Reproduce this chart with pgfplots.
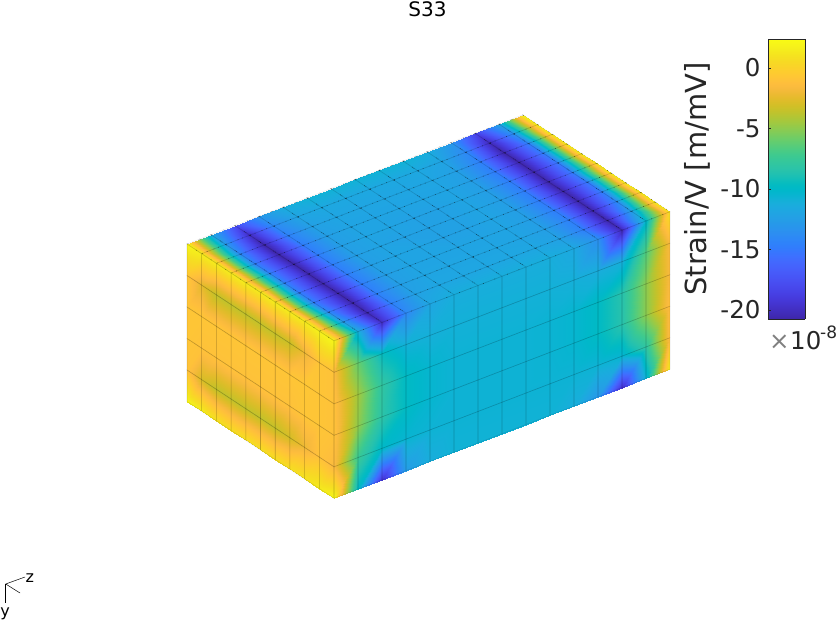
\documentclass[border=0pt]{standalone}
\usepackage{fontspec}
\setmainfont{DejaVu Sans}
\usepackage{pgfplots}
\usepackage{pgfplotstable}
\pgfplotsset{compat=1.18}
\definecolor{mtext}{rgb}{0.15,0.15,0.15}
\pgfplotsset{colormap={parula}{
rgb=(0.2422,0.1504,0.6603) rgb=(0.2504,0.1650,0.7076) rgb=(0.2578,0.1818,0.7511) rgb=(0.2647,0.1978,0.7952)
rgb=(0.2706,0.2147,0.8364) rgb=(0.2751,0.2342,0.8710) rgb=(0.2783,0.2559,0.8991) rgb=(0.2803,0.2782,0.9221)
rgb=(0.2813,0.3006,0.9414) rgb=(0.2810,0.3228,0.9579) rgb=(0.2795,0.3447,0.9717) rgb=(0.2760,0.3667,0.9829)
rgb=(0.2699,0.3892,0.9906) rgb=(0.2602,0.4123,0.9952) rgb=(0.2440,0.4358,0.9988) rgb=(0.2206,0.4603,0.9973)
rgb=(0.1963,0.4847,0.9892) rgb=(0.1834,0.5074,0.9798) rgb=(0.1786,0.5289,0.9682) rgb=(0.1764,0.5499,0.9520)
rgb=(0.1687,0.5703,0.9359) rgb=(0.1540,0.5902,0.9218) rgb=(0.1460,0.6091,0.9079) rgb=(0.1380,0.6276,0.8973)
rgb=(0.1248,0.6459,0.8883) rgb=(0.1113,0.6635,0.8763) rgb=(0.0952,0.6798,0.8598) rgb=(0.0689,0.6948,0.8394)
rgb=(0.0297,0.7082,0.8163) rgb=(0.0036,0.7203,0.7917) rgb=(0.0067,0.7312,0.7660) rgb=(0.0433,0.7411,0.7394)
rgb=(0.0964,0.7500,0.7120) rgb=(0.1408,0.7584,0.6842) rgb=(0.1717,0.7670,0.6554) rgb=(0.1938,0.7758,0.6251)
rgb=(0.2161,0.7843,0.5923) rgb=(0.2470,0.7918,0.5567) rgb=(0.2906,0.7973,0.5188) rgb=(0.3406,0.8008,0.4789)
rgb=(0.3909,0.8029,0.4354) rgb=(0.4456,0.8024,0.3909) rgb=(0.5044,0.7993,0.3480) rgb=(0.5616,0.7942,0.3045)
rgb=(0.6174,0.7876,0.2612) rgb=(0.6720,0.7793,0.2227) rgb=(0.7242,0.7698,0.1910) rgb=(0.7738,0.7598,0.1646)
rgb=(0.8203,0.7498,0.1535) rgb=(0.8634,0.7406,0.1596) rgb=(0.9035,0.7330,0.1774) rgb=(0.9393,0.7288,0.2100)
rgb=(0.9728,0.7298,0.2394) rgb=(0.9956,0.7434,0.2371) rgb=(0.9970,0.7659,0.2199) rgb=(0.9952,0.7861,0.1967)
rgb=(0.9892,0.8090,0.1768) rgb=(0.9786,0.8323,0.1551) rgb=(0.9676,0.8555,0.1398) rgb=(0.9610,0.8807,0.1260)
rgb=(0.9597,0.9090,0.1157) rgb=(0.9628,0.9373,0.1100) rgb=(0.9691,0.9606,0.0950) rgb=(0.9769,0.9839,0.0805)
}}
% top face z=5: rows y=0..10, columns x=0..14
\pgfplotstableread{
x y z c
0 0 5 2
1 0 5 -11
2 0 5 -19.8
3 0 5 -14
4 0 5 -11.8
5 0 5 -11.2
6 0 5 -11.2
7 0 5 -11.2
8 0 5 -11.2
9 0 5 -11.2
10 0 5 -11.6
11 0 5 -13.5
12 0 5 -20.3
13 0 5 -10
14 0 5 1
0 1 5 1.8
1 1 5 -12.5
2 1 5 -20.5
3 1 5 -14.5
4 1 5 -12.2
5 1 5 -11.8
6 1 5 -11.8
7 1 5 -11.8
8 1 5 -11.8
9 1 5 -11.8
10 1 5 -12.2
11 1 5 -14.5
12 1 5 -20.7
13 1 5 -12.5
14 1 5 1.5
0 2 5 1.5
1 2 5 -14
2 2 5 -20.7
3 2 5 -14.5
4 2 5 -12.4
5 2 5 -11.9
6 2 5 -11.9
7 2 5 -11.9
8 2 5 -11.9
9 2 5 -12
10 2 5 -12.4
11 2 5 -14.5
12 2 5 -20.7
13 2 5 -14
14 2 5 1.5
0 3 5 1.5
1 3 5 -14.5
2 3 5 -20.7
3 3 5 -14.7
4 3 5 -12.4
5 3 5 -12
6 3 5 -12
7 3 5 -12
8 3 5 -12
9 3 5 -12
10 3 5 -12.4
11 3 5 -14.7
12 3 5 -20.7
13 3 5 -14.7
14 3 5 1.5
0 4 5 1.5
1 4 5 -14.5
2 4 5 -20.7
3 4 5 -14.7
4 4 5 -12.4
5 4 5 -12
6 4 5 -12
7 4 5 -12.2
8 4 5 -12.2
9 4 5 -12
10 4 5 -12.4
11 4 5 -14.7
12 4 5 -20.7
13 4 5 -15
14 4 5 1.5
0 5 5 1.5
1 5 5 -14.5
2 5 5 -20.7
3 5 5 -14.7
4 5 5 -12.4
5 5 5 -12
6 5 5 -12.2
7 5 5 -12.2
8 5 5 -12.2
9 5 5 -12
10 5 5 -12.4
11 5 5 -14.7
12 5 5 -20.7
13 5 5 -15
14 5 5 1.5
0 6 5 1.5
1 6 5 -14.5
2 6 5 -20.7
3 6 5 -14.7
4 6 5 -12.4
5 6 5 -12
6 6 5 -12
7 6 5 -12.2
8 6 5 -12.2
9 6 5 -12
10 6 5 -12.4
11 6 5 -14.7
12 6 5 -20.7
13 6 5 -15
14 6 5 1.5
0 7 5 1.5
1 7 5 -14.5
2 7 5 -20.7
3 7 5 -14.7
4 7 5 -12.4
5 7 5 -12
6 7 5 -12
7 7 5 -12
8 7 5 -12
9 7 5 -12
10 7 5 -12.4
11 7 5 -14.7
12 7 5 -20.7
13 7 5 -14.7
14 7 5 1.5
0 8 5 1.5
1 8 5 -14
2 8 5 -20.7
3 8 5 -14.5
4 8 5 -12.3
5 8 5 -11.9
6 8 5 -11.9
7 8 5 -11.9
8 8 5 -11.9
9 8 5 -11.9
10 8 5 -12.3
11 8 5 -14.5
12 8 5 -20.7
13 8 5 -14.5
14 8 5 1.5
0 9 5 1.5
1 9 5 -13
2 9 5 -20
3 9 5 -14
4 9 5 -12
5 9 5 -11.7
6 9 5 -11.7
7 9 5 -11.7
8 9 5 -11.7
9 9 5 -11.7
10 9 5 -12
11 9 5 -14
12 9 5 -20.3
13 9 5 -13.5
14 9 5 1.5
0 10 5 2
1 10 5 -11.5
2 10 5 -18
3 10 5 -13
4 10 5 -11.3
5 10 5 -10.8
6 10 5 -10.8
7 10 5 -10.8
8 10 5 -10.8
9 10 5 -10.8
10 10 5 -11.3
11 10 5 -13
12 10 5 -18.5
13 10 5 -12
14 10 5 2
}\topface
% front face y=0: rows z=0..5, columns x=0..14
\pgfplotstableread{
x y z c
0 0 0 2
1 0 0 -10
2 0 0 -19.5
3 0 0 -12.5
4 0 0 -11.2
5 0 0 -10.8
6 0 0 -10.8
7 0 0 -10.8
8 0 0 -10.8
9 0 0 -10.8
10 0 0 -11.2
11 0 0 -13
12 0 0 -19.8
13 0 0 -10.5
14 0 0 2
0 0 1 -1.5
1 0 1 -7.5
2 0 1 -10
3 0 1 -10.5
4 0 1 -10.7
5 0 1 -10.7
6 0 1 -10.7
7 0 1 -10.7
8 0 1 -10.7
9 0 1 -10.7
10 0 1 -10.7
11 0 1 -10.7
12 0 1 -10.5
13 0 1 -8
14 0 1 -1
0 0 2 -1
1 0 2 -5
2 0 2 -8.3
3 0 2 -9.8
4 0 2 -10.4
5 0 2 -10.7
6 0 2 -10.7
7 0 2 -10.7
8 0 2 -10.7
9 0 2 -10.6
10 0 2 -10.4
11 0 2 -9.8
12 0 2 -8.5
13 0 2 -5
14 0 2 -1
0 0 3 -1
1 0 3 -4.5
2 0 3 -8
3 0 3 -9.8
4 0 3 -10.4
5 0 3 -10.7
6 0 3 -10.7
7 0 3 -10.7
8 0 3 -10.7
9 0 3 -10.6
10 0 3 -10.4
11 0 3 -9.8
12 0 3 -8.5
13 0 3 -5
14 0 3 -1.5
0 0 4 -1.5
1 0 4 -6
2 0 4 -9.5
3 0 4 -10.8
4 0 4 -11
5 0 4 -10.9
6 0 4 -10.9
7 0 4 -10.9
8 0 4 -10.9
9 0 4 -10.9
10 0 4 -11
11 0 4 -11.2
12 0 4 -11
13 0 4 -6.5
14 0 4 -1.5
0 0 5 2
1 0 5 -11
2 0 5 -19.8
3 0 5 -14
4 0 5 -11.8
5 0 5 -11.2
6 0 5 -11.2
7 0 5 -11.2
8 0 5 -11.2
9 0 5 -11.2
10 0 5 -11.6
11 0 5 -13.5
12 0 5 -20.3
13 0 5 -10
14 0 5 1
}\frontface
% left face x=0: rows z=0..5, columns y=0..10
\pgfplotstableread{
x y z c
0 0 0 2
0 1 0 1.5
0 2 0 1
0 3 0 .8
0 4 0 .8
0 5 0 .8
0 6 0 .8
0 7 0 .8
0 8 0 1
0 9 0 1.5
0 10 0 2
0 0 1 -1.5
0 1 1 -1
0 2 1 -2
0 3 1 -3
0 4 1 -3.5
0 5 1 -3.6
0 6 1 -3.6
0 7 1 -3.6
0 8 1 -3.6
0 9 1 -3
0 10 1 -1
0 0 2 -1
0 1 2 -.8
0 2 2 -.8
0 3 2 -1
0 4 2 -1
0 5 2 -1
0 6 2 -1
0 7 2 -1
0 8 2 -1
0 9 2 -1
0 10 2 -.8
0 0 3 -1
0 1 3 -.8
0 2 3 -.7
0 3 3 -.8
0 4 3 -.8
0 5 3 -.8
0 6 3 -.8
0 7 3 -.8
0 8 3 -.8
0 9 3 -.8
0 10 3 -.8
0 0 4 -1
0 1 4 -.8
0 2 4 -2
0 3 4 -3.3
0 4 4 -3.5
0 5 4 -3.6
0 6 4 -3.6
0 7 4 -3.6
0 8 4 -3.6
0 9 4 -2.5
0 10 4 -.7
0 0 5 2
0 1 5 1.8
0 2 5 1.5
0 3 5 1.5
0 4 5 1.5
0 5 5 1.5
0 6 5 1.5
0 7 5 1.5
0 8 5 1.5
0 9 5 1.5
0 10 5 2
}\leftface
\begin{document}
\begin{tikzpicture}[x=1pt,y=1pt]
\useasboundingbox (0,0) rectangle (839,622);
\begin{axis}[anchor=origin, at={(334pt,123.7pt)},
  x={(24pt,9.22pt)}, y={(-14.7pt,9.68pt)}, z={(0pt,31.5pt)},
  xmin=0,xmax=14,ymin=0,ymax=10,zmin=0,zmax=5,
  hide axis, clip=false, colormap name=parula,
  point meta min=-20.75, point meta max=2.4]
\addplot3[surf, shader=interp, point meta=explicit, mesh/rows=11, mesh/cols=15] table[meta=c]{\topface};
\addplot3[surf, shader=interp, point meta=explicit, mesh/rows=6, mesh/cols=15] table[meta=c]{\frontface};
\addplot3[surf, shader=interp, point meta=explicit, mesh/rows=6, mesh/cols=11] table[meta=c]{\leftface};
\addplot3[mesh, draw=black, draw opacity=.08, line width=.6pt, mesh/rows=11, mesh/cols=15] table{\topface};
\addplot3[mesh, draw=black, draw opacity=.11, line width=.6pt, mesh/rows=6, mesh/cols=15] table{\frontface};
\addplot3[mesh, draw=black, draw opacity=.13, line width=.6pt, mesh/rows=6, mesh/cols=11] table{\leftface};
\addplot3[mesh, draw=black, draw opacity=.55, line width=.55pt, dash pattern=on .7pt off 11.5pt, mesh/rows=11, mesh/cols=15] table{\topface};
\end{axis}
\begin{axis}[at={(768pt,303pt)}, anchor=south west, scale only axis, width=37pt, height=280pt,
  view={0}{90}, xmin=0, xmax=1, ymin=-20.75, ymax=2.4, xtick=\empty,
  ytick={-20,-15,-10,-5,0}, yticklabels={-20,-15,-10,-5,0},
  ytick pos=left, tick align=inside, major tick length=2.5pt,
  tick style={draw=mtext,line width=.5pt}, axis line style={draw=mtext,line width=.7pt},
  yticklabel style={font=\fontsize{24.5}{24.5}\selectfont, text=mtext, xshift=-4pt},
  ylabel={Strain/V [m/mV]}, ylabel shift=3pt, ylabel style={font=\fontsize{29}{29}\selectfont, text=mtext},
  colormap name=parula, point meta min=-20.75, point meta max=2.4, axis on top]
\addplot3[surf, shader=interp, point meta=y, mesh/rows=2, mesh/cols=2] coordinates {(0,-20.75,0) (1,-20.75,0) (0,2.4,0) (1,2.4,0)};
\end{axis}
\node[font=\fontsize{20}{20}\selectfont, anchor=base, text=black] at (427.5,605) {S33};
\node[font=\fontsize{24.5}{24.5}\selectfont, anchor=base west, inner sep=0pt, text=mtext] at (790,272) {10};
\node[font=\fontsize{24.5}{24.5}\selectfont, anchor=base west, inner sep=0pt, text=gray] at (769,272) {×};
\node[font=\fontsize{17}{17}\selectfont, anchor=base west, inner sep=0pt, text=mtext] at (820,283) {-8};
\draw[line width=.5pt] (5.7,38) -- (25,45);
\draw[line width=.5pt] (5.7,38) -- (5.7,19);
\draw[line width=.5pt] (5.7,38) -- (20,29);
\node[font=\fontsize{16}{16}\selectfont, anchor=base west, inner sep=0pt] at (25.5,40) {z};
\node[font=\fontsize{16}{16}\selectfont, anchor=base, inner sep=0pt] at (5,6) {y};
\end{tikzpicture}
\end{document}
